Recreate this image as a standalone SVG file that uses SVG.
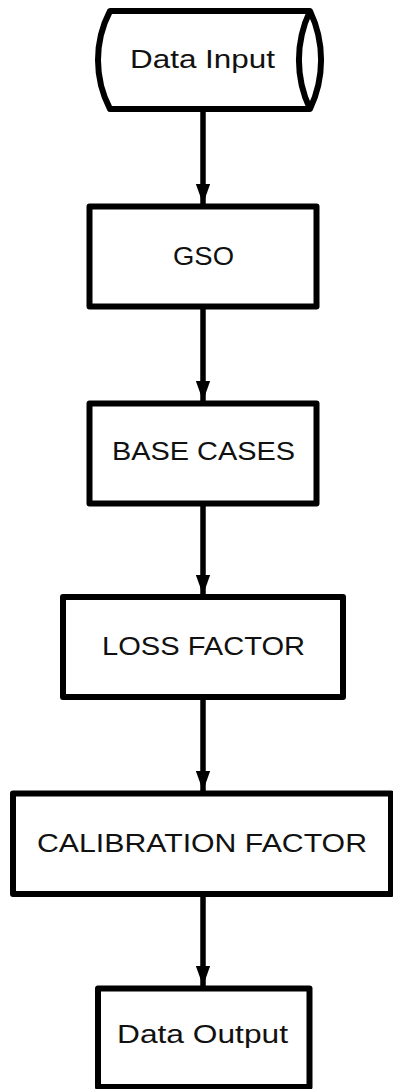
<svg xmlns="http://www.w3.org/2000/svg" width="393" height="1089" viewBox="0 0 393 1089">
<style>
.shape{fill:#ffffff;stroke:#000000;stroke-width:6;stroke-linejoin:round}
.lbl{font-family:"Liberation Sans",Arial,sans-serif;font-size:25px;fill:#111111;text-anchor:middle}
.edge{stroke:#000000;stroke-width:5.5;fill:none}
</style>
<defs>
<marker id="arr" markerUnits="userSpaceOnUse" markerWidth="20" markerHeight="28" refX="28" refY="10" orient="auto" viewBox="0 0 28 20">
<path d="M0,0 L28,10 L0,20 Z" fill="#000000"/>
</marker>
</defs>
<rect width="393" height="1089" fill="#ffffff"/>
<g id="connectors">
<line class="edge" x1="203" y1="109" x2="203" y2="204" marker-end="url(#arr)"/>
<line class="edge" x1="203" y1="307" x2="203" y2="401" marker-end="url(#arr)"/>
<line class="edge" x1="203" y1="504" x2="203" y2="595" marker-end="url(#arr)"/>
<line class="edge" x1="203" y1="697" x2="203" y2="791" marker-end="url(#arr)"/>
<line class="edge" x1="203" y1="894" x2="203" y2="986" marker-end="url(#arr)"/>
</g>
<g id="data-input">
<path class="shape" d="M110,11 L310,11 A114,114 0 0 1 310,109 L110,109 A106,106 0 0 1 110,11 Z"/>
<path class="shape" style="fill:none" d="M310,11 A114,114 0 0 0 310,109"/>
<text class="lbl" x="202.5" y="68" textLength="145" lengthAdjust="spacingAndGlyphs">Data Input</text>
</g>
<g id="gso">
<rect class="shape" x="89.5" y="206.5" width="227" height="100"/>
<text class="lbl" x="203.5" y="265" textLength="61" lengthAdjust="spacingAndGlyphs">GSO</text>
</g>
<g id="base-cases">
<rect class="shape" x="89.5" y="403.5" width="227" height="100"/>
<text class="lbl" x="203.5" y="460" textLength="183" lengthAdjust="spacingAndGlyphs">BASE CASES</text>
</g>
<g id="loss-factor">
<rect class="shape" x="63" y="597" width="280" height="100"/>
<text class="lbl" x="203.5" y="655" textLength="203" lengthAdjust="spacingAndGlyphs">LOSS FACTOR</text>
</g>
<g id="calibration-factor">
<rect class="shape" x="13" y="793.5" width="378" height="100.5"/>
<text class="lbl" x="202" y="852" textLength="330" lengthAdjust="spacingAndGlyphs">CALIBRATION FACTOR</text>
</g>
<g id="data-output">
<rect class="shape" x="98" y="988.5" width="211.5" height="98.5"/>
<text class="lbl" x="202.5" y="1043" textLength="171" lengthAdjust="spacingAndGlyphs">Data Output</text>
</g>
</svg>
